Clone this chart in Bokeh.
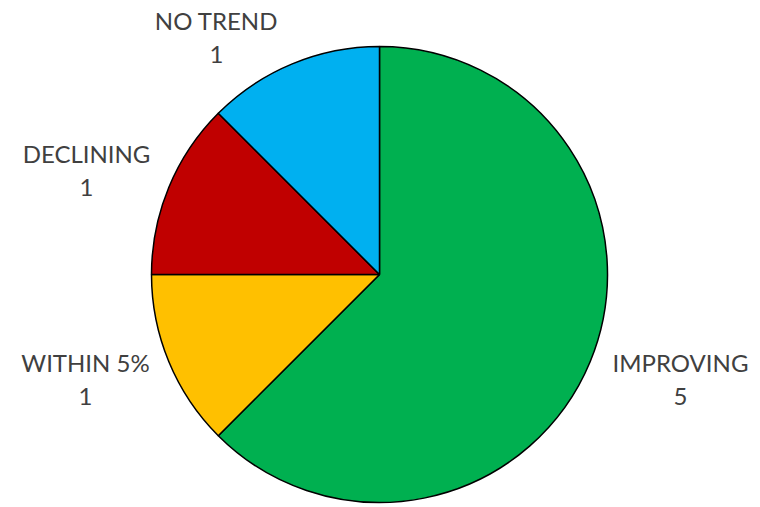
import numpy as np
from bokeh.plotting import figure
from bokeh.models import ColumnDataSource, Range1d
from bokeh.core.properties import value
from bokeh.embed import file_html
from bokeh.resources import INLINE

categories = ["IMPROVING", "WITHIN 5%", "DECLINING", "NO TREND"]
counts = [5, 1, 1, 1]
colors = ["#00B050", "#FFC000", "#C00000", "#00B0F0"]

W, H = 760, 507
cx, cy, r = 379, H - 274, 228

vals = np.array(counts, dtype=float)
frac = vals / vals.sum()
ends = np.cumsum(frac) * 2 * np.pi
starts = ends - frac * 2 * np.pi
# clockwise from top
start_angle = np.pi / 2 - starts
end_angle = np.pi / 2 - ends

src = ColumnDataSource(dict(
    x=[cx] * len(counts), y=[cy] * len(counts),
    start=start_angle, end=end_angle, color=colors,
))

p = figure(width=W, height=H, output_backend="svg", toolbar_location=None,
           x_range=Range1d(0, W), y_range=Range1d(0, H),
           min_border=0)
p.axis.visible = False
p.grid.visible = False
p.outline_line_color = None
p.background_fill_color = "white"

p.wedge(x="x", y="y", radius=r, start_angle="start", end_angle="end",
        direction="clock", fill_color="color", line_color="black",
        line_width=1.5, source=src)

# label anchor positions (pixels in figure)
lx = [680, 85, 86, 216]
ly = [H - 378.5, H - 378.5, H - 169.5, H - 36.5]
labels = [f"{c}\n{int(v)}" for c, v in zip(categories, counts)]
p.text(x=lx, y=ly, text=labels, text_align="center", text_baseline="middle",
       text_font=value("Lato"), text_font_size="24px", text_color="#404040",
       text_line_height=1.15)

open("out.html", "w").write(file_html(p, INLINE))
